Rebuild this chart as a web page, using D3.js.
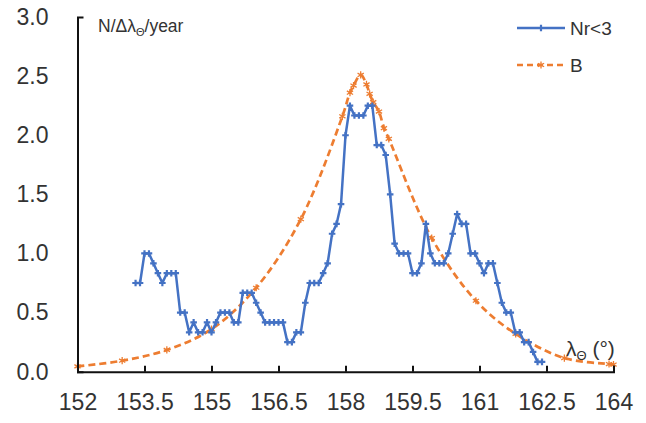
<!DOCTYPE html>
<html><head><meta charset="utf-8">
<script src="https://cdn.jsdelivr.net/npm/d3@7/dist/d3.min.js"></script>
<style>
body{margin:0;background:#fff;}
svg{display:block;font-family:"Liberation Sans",Arial,sans-serif;}
</style></head>
<body><svg id="c" width="646" height="423"></svg>
<script>
// Series Nr<3 : solar longitude (deg) and rate
const nrLambda = [153.3,153.4,153.5,153.6,153.7,153.8,153.9,154.0,154.1,154.2,154.3,154.4,154.5,154.6,154.7,154.8,154.9,155.0,155.1,155.2,155.3,155.4,155.5,155.6,155.7,155.8,155.9,156.0,156.1,156.2,156.3,156.4,156.5,156.6,156.7,156.8,156.9,157.0,157.1,157.2,157.3,157.4,157.5,157.6,157.7,157.8,157.9,158.0,158.1,158.2,158.3,158.4,158.5,158.6,158.7,158.8,158.9,159.0,159.1,159.2,159.3,159.4,159.5,159.6,159.7,159.8,159.9,160.0,160.1,160.2,160.3,160.4,160.5,160.6,160.7,160.8,160.9,161.0,161.1,161.2,161.3,161.4,161.5,161.6,161.7,161.8,161.9,162.0,162.1,162.2,162.3,162.4];
const nrValues = [0.75,0.75,1.0,1.0,0.917,0.833,0.75,0.833,0.833,0.833,0.5,0.5,0.333,0.417,0.333,0.333,0.417,0.333,0.417,0.5,0.5,0.5,0.417,0.417,0.667,0.667,0.667,0.583,0.5,0.417,0.417,0.417,0.417,0.417,0.25,0.25,0.333,0.333,0.583,0.75,0.75,0.75,0.833,0.917,1.167,1.25,1.417,2.0,2.25,2.167,2.167,2.167,2.25,2.25,1.917,1.917,1.833,1.5,1.083,1.0,1.0,1.0,0.833,0.833,0.917,1.25,1.0,0.917,0.917,0.917,1.0,1.167,1.333,1.25,1.25,1.0,1.0,0.917,0.833,0.917,0.917,0.75,0.583,0.5,0.5,0.333,0.333,0.25,0.25,0.167,0.083,0.083];
// Series B (model curve) read at its markers
const bLambda = [152.0,153.0,154.0,155.0,156.0,157.0,157.93,158.1,158.18,158.34,158.47,158.54,158.62,158.75,158.86,158.97,159.93,160.92,161.81,162.9,163.9,164.0];
const bValues = [0.045,0.093,0.184,0.36,0.71,1.29,2.16,2.36,2.42,2.51,2.43,2.35,2.28,2.2,2.06,1.97,1.13,0.6,0.32,0.115,0.065,0.06];
// Axes
const xTicks = [152,153.5,155,156.5,158,159.5,161,162.5,164];
const yTicks = [0,0.5,1.0,1.5,2.0,2.5,3.0];
const seriesNames = ["Nr<3","B"];

const svg = d3.select("#c");
const x = d3.scaleLinear().domain([152,164]).range([77.5,613.5]);
const y = d3.scaleLinear().domain([0,3]).range([371.7,17]);
const blue = "#4472C4", orange = "#ED7D31";

// Orange B curve
const bData = bLambda.map((l,i)=>[l,bValues[i]]);
svg.append("path").datum(bData)
  .attr("fill","none").attr("stroke",orange).attr("stroke-width",2.7)
  .attr("stroke-dasharray","7,4")
  .attr("d", d3.line().x(d=>x(d[0])).y(d=>y(d[1])).curve(d3.curveCatmullRom.alpha(0.5)));
const ast = d3.symbol().type(d3.symbolAsterisk).size(36);
svg.append("g").selectAll("path").data(bData).join("path")
  .attr("transform",d=>`translate(${x(d[0])},${y(d[1])})`)
  .attr("d",ast).attr("fill","none").attr("stroke",orange).attr("stroke-width",1.3);

// Blue Nr<3 line
const nrData = nrLambda.map((l,i)=>[l,nrValues[i]]);
svg.append("path").datum(nrData)
  .attr("fill","none").attr("stroke",blue).attr("stroke-width",2.5).attr("stroke-linejoin","round")
  .attr("d", d3.line().x(d=>x(d[0])).y(d=>y(d[1])));
const cross = d3.symbol().type(d3.symbolCross).size(24);
svg.append("g").selectAll("path").data(nrData).join("path")
  .attr("transform",d=>`translate(${x(d[0])},${y(d[1])})`)
  .attr("d",cross).attr("fill",blue);

// Axes
const fmtX = d=>String(d);
const xAxis = d3.axisBottom(x).tickValues(xTicks).tickFormat(fmtX).tickSizeInner(-6).tickSizeOuter(-6).tickPadding(22);
const gx = svg.append("g").attr("transform",`translate(0,${y(0)})`).call(xAxis);
gx.selectAll("path,line").attr("stroke","#111").attr("stroke-width",2);
gx.selectAll("text").attr("font-size",23).attr("fill","#333").attr("font-family","Liberation Sans, Arial, sans-serif");

const yAxis = d3.axisLeft(y).tickValues(yTicks).tickFormat(d3.format(".1f")).tickSizeInner(0).tickSizeOuter(-6).tickPadding(29);
const gy = svg.append("g").attr("transform",`translate(${x(152)},0)`).call(yAxis);
gy.selectAll("path,line").attr("stroke","#111").attr("stroke-width",2);
gy.selectAll("text").attr("font-size",23).attr("fill","#333").attr("font-family","Liberation Sans, Arial, sans-serif");

// Axis titles
const yt = svg.append("text").attr("x",98).attr("y",32).attr("font-size",17.5).attr("fill","#333");
yt.append("tspan").text("N/Δλ");
yt.append("tspan").attr("font-size",11).attr("dy",4).text("Θ");
yt.append("tspan").attr("dy",-4).text("/year");

const xt = svg.append("text").attr("x",566).attr("y",356).attr("font-size",21).attr("fill","#333");
xt.append("tspan").text("λ");
xt.append("tspan").attr("font-size",13).attr("dy",4).text("Θ");
xt.append("tspan").attr("dy",-4).text(" (°)");

// Legend
const lg = svg.append("g");
lg.append("line").attr("x1",517).attr("x2",565).attr("y1",28).attr("y2",28).attr("stroke",blue).attr("stroke-width",2.5);
lg.append("path").attr("transform","translate(541,28)").attr("d",cross).attr("fill",blue);
lg.append("text").attr("x",570).attr("y",35).attr("font-size",19).attr("fill","#333").text(seriesNames[0]);
lg.append("line").attr("x1",517).attr("x2",565).attr("y1",65).attr("y2",65).attr("stroke",orange).attr("stroke-width",2.5).attr("stroke-dasharray","6,4");
lg.append("path").attr("transform","translate(541,65)").attr("d",ast).attr("fill","none").attr("stroke",orange).attr("stroke-width",1.3);
lg.append("text").attr("x",570).attr("y",72).attr("font-size",19).attr("fill","#333").text(seriesNames[1]);
</script></body></html>
